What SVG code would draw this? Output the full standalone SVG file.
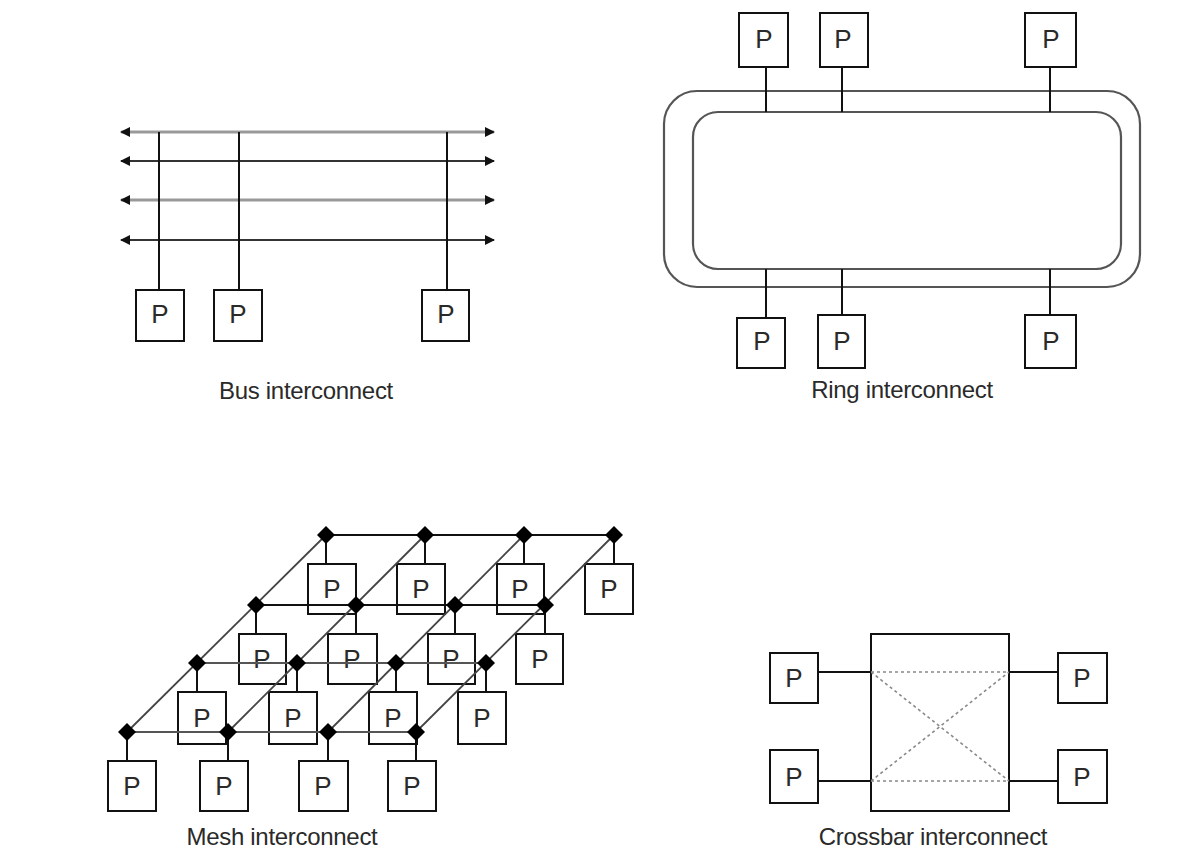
<svg xmlns="http://www.w3.org/2000/svg" width="1200" height="856" viewBox="0 0 1200 856">
<style>
  .box{fill:#fff;stroke:#111;stroke-width:2}
  .pt{font-family:"Liberation Sans",Arial,sans-serif;font-size:26px;fill:#2a2a2a;text-anchor:middle}
  .lbl{font-family:"Liberation Sans",Arial,sans-serif;font-size:24px;fill:#2a2a2a;text-anchor:middle;letter-spacing:-0.3px}
  .wire{stroke:#111;stroke-width:2;fill:none}
  .bus1{stroke:#999;stroke-width:3;fill:none}
  .bus2{stroke:#333;stroke-width:2;fill:none}
  .ring{stroke:#555;stroke-width:2.2;fill:none}
  .row{stroke:#111;stroke-width:2;fill:none}
  .rowg{stroke:#555;stroke-width:2;fill:none}
  .diag{stroke:#444;stroke-width:1.8;fill:none}
  .dash{stroke:#888;stroke-width:1.6;fill:none;stroke-dasharray:3 3}
  .dia{fill:#000}
</style>
<defs>
  <marker id="ah" viewBox="0 0 10 10" refX="9" refY="5" markerWidth="10" markerHeight="10" markerUnits="userSpaceOnUse" orient="auto-start-reverse">
    <path d="M0,0 L10,5 L0,10 z" fill="#111"/>
  </marker>
  <path id="dm" d="M0,-9 L9,0 L0,9 L-9,0 z"/>
</defs>

<!-- ================= BUS ================= -->
<g id="bus">
  <g id="bus-lines">
    <line class="bus1" x1="121" y1="132" x2="494" y2="132" marker-start="url(#ah)" marker-end="url(#ah)"/>
    <line class="bus2" x1="121" y1="161" x2="494" y2="161" marker-start="url(#ah)" marker-end="url(#ah)"/>
    <line class="bus1" x1="121" y1="200" x2="494" y2="200" marker-start="url(#ah)" marker-end="url(#ah)"/>
    <line class="bus2" x1="121" y1="240" x2="494" y2="240" marker-start="url(#ah)" marker-end="url(#ah)"/>
  </g>
  <g id="bus-connectors">
    <line class="wire" x1="159" y1="132" x2="159" y2="290"/>
    <line class="wire" x1="239" y1="132" x2="239" y2="290"/>
    <line class="wire" x1="447" y1="132" x2="447" y2="290"/>
  </g>
  <g id="bus-p1"><rect class="box" x="136" y="290" width="48" height="51"/><text class="pt" x="160" y="323">P</text></g>
  <g id="bus-p2"><rect class="box" x="214" y="290" width="48" height="51"/><text class="pt" x="238" y="323">P</text></g>
  <g id="bus-p3"><rect class="box" x="422" y="290" width="47" height="51"/><text class="pt" x="446" y="323">P</text></g>
  <text class="lbl" x="306" y="399">Bus interconnect</text>
</g>

<!-- ================= RING ================= -->
<g id="ring">
  <g id="ring-loop">
    <rect class="ring" x="664" y="91" width="476" height="196" rx="33"/>
    <rect class="ring" x="693" y="112" width="428" height="157" rx="25"/>
  </g>
  <g id="ring-connectors">
    <line class="wire" x1="766" y1="67" x2="766" y2="112"/>
    <line class="wire" x1="842" y1="63" x2="842" y2="112"/>
    <line class="wire" x1="1050" y1="67" x2="1050" y2="112"/>
    <line class="wire" x1="766" y1="269" x2="766" y2="318"/>
    <line class="wire" x1="842" y1="269" x2="842" y2="315"/>
    <line class="wire" x1="1050" y1="269" x2="1050" y2="315"/>
  </g>
  <g id="ring-p1"><rect class="box" x="739" y="13" width="49" height="54"/><text class="pt" x="764" y="48">P</text></g>
  <g id="ring-p2"><rect class="box" x="820" y="13" width="48" height="54"/><text class="pt" x="843" y="48">P</text></g>
  <g id="ring-p3"><rect class="box" x="1025" y="13" width="51" height="54"/><text class="pt" x="1051" y="48">P</text></g>
  <g id="ring-p4"><rect class="box" x="737" y="318" width="48" height="50"/><text class="pt" x="762" y="350">P</text></g>
  <g id="ring-p5"><rect class="box" x="818" y="315" width="47" height="53"/><text class="pt" x="842" y="350">P</text></g>
  <g id="ring-p6"><rect class="box" x="1025" y="315" width="51" height="53"/><text class="pt" x="1051" y="350">P</text></g>
  <text class="lbl" x="902" y="398">Ring interconnect</text>
</g>

<!-- ================= MESH ================= -->
<g id="mesh">
  <g id="mesh-p-r1">
    <g id="m11"><rect class="box" x="308" y="564" width="48" height="50"/><text class="pt" x="332" y="598">P</text></g>
    <g id="m12"><rect class="box" x="397" y="564" width="48" height="50"/><text class="pt" x="421" y="598">P</text></g>
    <g id="m13"><rect class="box" x="497" y="564" width="47" height="50"/><text class="pt" x="520" y="598">P</text></g>
    <g id="m14"><rect class="box" x="585" y="564" width="48" height="50"/><text class="pt" x="609" y="598">P</text></g>
  </g>
  <g id="mesh-p-r2">
    <g id="m21"><rect class="box" x="239" y="634" width="47" height="50"/><text class="pt" x="262" y="668">P</text></g>
    <g id="m22"><rect class="box" x="328" y="634" width="49" height="50"/><text class="pt" x="352" y="668">P</text></g>
    <g id="m23"><rect class="box" x="428" y="634" width="47" height="50"/><text class="pt" x="451" y="668">P</text></g>
    <g id="m24"><rect class="box" x="516" y="634" width="47" height="50"/><text class="pt" x="540" y="668">P</text></g>
  </g>
  <g id="mesh-p-r3">
    <g id="m31"><rect class="box" x="178" y="692" width="48" height="52"/><text class="pt" x="202" y="727">P</text></g>
    <g id="m32"><rect class="box" x="269" y="692" width="48" height="52"/><text class="pt" x="293" y="727">P</text></g>
    <g id="m33"><rect class="box" x="369" y="692" width="48" height="52"/><text class="pt" x="393" y="727">P</text></g>
    <g id="m34"><rect class="box" x="458" y="692" width="48" height="52"/><text class="pt" x="482" y="727">P</text></g>
  </g>
  <g id="mesh-p-r4">
    <g id="m41"><rect class="box" x="108" y="761" width="48" height="50"/><text class="pt" x="132" y="795">P</text></g>
    <g id="m42"><rect class="box" x="200" y="761" width="48" height="50"/><text class="pt" x="224" y="795">P</text></g>
    <g id="m43"><rect class="box" x="299" y="761" width="49" height="50"/><text class="pt" x="323" y="795">P</text></g>
    <g id="m44"><rect class="box" x="388" y="761" width="48" height="50"/><text class="pt" x="412" y="795">P</text></g>
  </g>
  <g id="mesh-connectors">
    <line class="diag" x1="326" y1="535" x2="127" y2="732"/>
    <line class="diag" x1="425" y1="535" x2="228" y2="732"/>
    <line class="diag" x1="524" y1="535" x2="328" y2="732"/>
    <line class="diag" x1="614" y1="535" x2="416" y2="732"/>
    <line class="row" x1="326" y1="535" x2="614" y2="535"/>
    <line class="row" x1="256" y1="605" x2="545" y2="605"/>
    <line class="rowg" x1="197" y1="663" x2="486" y2="663"/>
    <line class="rowg" x1="127" y1="732" x2="416" y2="732"/>
    <line class="wire" x1="326" y1="535" x2="326" y2="564"/>
    <line class="wire" x1="425" y1="535" x2="425" y2="564"/>
    <line class="wire" x1="524" y1="535" x2="524" y2="564"/>
    <line class="wire" x1="614" y1="535" x2="614" y2="564"/>
    <line class="wire" x1="256" y1="605" x2="256" y2="634"/>
    <line class="wire" x1="356" y1="605" x2="356" y2="634"/>
    <line class="wire" x1="455" y1="605" x2="455" y2="634"/>
    <line class="wire" x1="545" y1="605" x2="545" y2="634"/>
    <line class="wire" x1="197" y1="663" x2="197" y2="692"/>
    <line class="wire" x1="297" y1="663" x2="297" y2="692"/>
    <line class="wire" x1="396" y1="663" x2="396" y2="692"/>
    <line class="wire" x1="486" y1="663" x2="486" y2="692"/>
    <line class="wire" x1="127" y1="732" x2="127" y2="761"/>
    <line class="wire" x1="228" y1="732" x2="228" y2="761"/>
    <line class="wire" x1="328" y1="732" x2="328" y2="761"/>
    <line class="wire" x1="416" y1="732" x2="416" y2="761"/>
  </g>
  <g id="mesh-switches" class="dia">
    <use href="#dm" x="326" y="535"/><use href="#dm" x="425" y="535"/><use href="#dm" x="524" y="535"/><use href="#dm" x="614" y="535"/>
    <use href="#dm" x="256" y="605"/><use href="#dm" x="356" y="605"/><use href="#dm" x="455" y="605"/><use href="#dm" x="545" y="605"/>
    <use href="#dm" x="197" y="663"/><use href="#dm" x="297" y="663"/><use href="#dm" x="396" y="663"/><use href="#dm" x="486" y="663"/>
    <use href="#dm" x="127" y="732"/><use href="#dm" x="228" y="732"/><use href="#dm" x="328" y="732"/><use href="#dm" x="416" y="732"/>
  </g>
  <text class="lbl" x="282" y="845">Mesh interconnect</text>
</g>

<!-- ================= CROSSBAR ================= -->
<g id="crossbar">
  <g id="xbar-switch">
    <rect class="box" x="871" y="634" width="138" height="177"/>
    <line class="dash" x1="871" y1="672" x2="1009" y2="672"/>
    <line class="dash" x1="871" y1="781" x2="1009" y2="781"/>
    <line class="dash" x1="871" y1="672" x2="1009" y2="781"/>
    <line class="dash" x1="871" y1="781" x2="1009" y2="672"/>
  </g>
  <g id="xbar-connectors">
    <line class="wire" x1="818" y1="672" x2="871" y2="672"/>
    <line class="wire" x1="818" y1="781" x2="871" y2="781"/>
    <line class="wire" x1="1009" y1="672" x2="1058" y2="672"/>
    <line class="wire" x1="1009" y1="781" x2="1058" y2="781"/>
  </g>
  <g id="xbar-p1"><rect class="box" x="770" y="653" width="48" height="50"/><text class="pt" x="794" y="687">P</text></g>
  <g id="xbar-p2"><rect class="box" x="770" y="750" width="48" height="53"/><text class="pt" x="794" y="786">P</text></g>
  <g id="xbar-p3"><rect class="box" x="1058" y="653" width="49" height="50"/><text class="pt" x="1082" y="687">P</text></g>
  <g id="xbar-p4"><rect class="box" x="1058" y="750" width="49" height="53"/><text class="pt" x="1082" y="786">P</text></g>
  <text class="lbl" x="933" y="845">Crossbar interconnect</text>
</g>
</svg>
